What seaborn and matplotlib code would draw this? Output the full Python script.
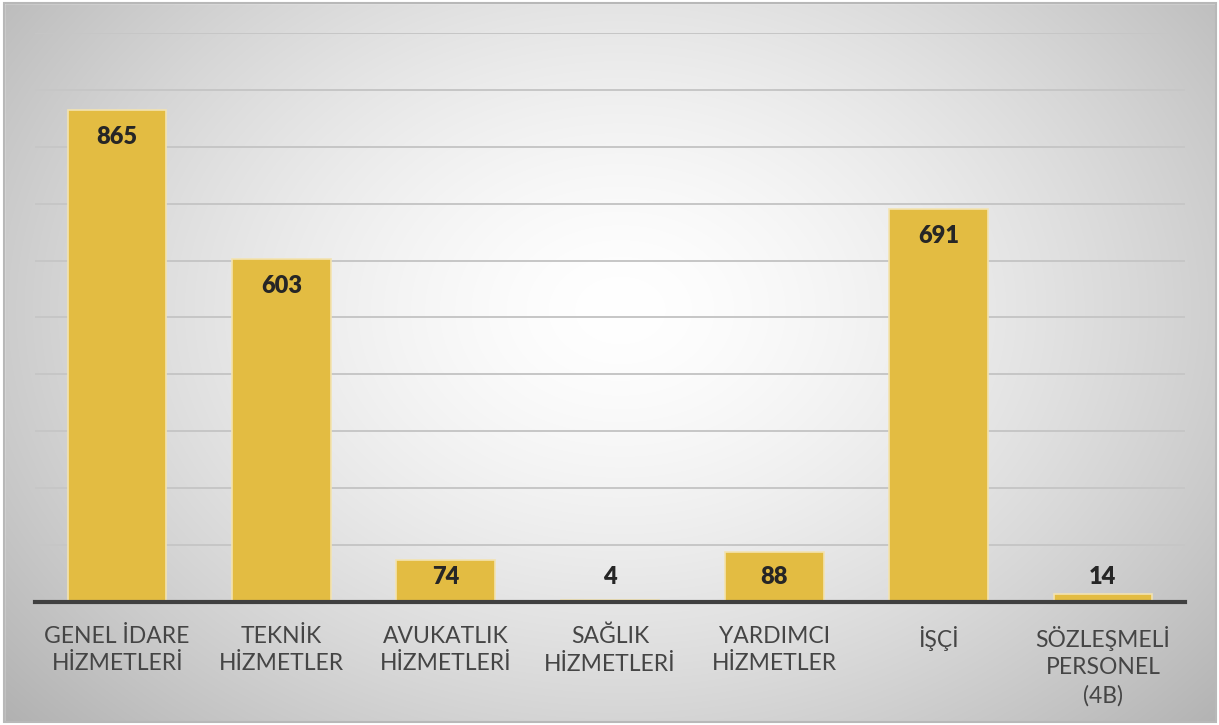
import numpy as np
import pandas as pd
import matplotlib
matplotlib.use("Agg")
import matplotlib.pyplot as plt
import seaborn as sns
from matplotlib.patches import Rectangle

categories = ["GENEL İDARE\nHİZMETLERİ", "TEKNİK\nHİZMETLER", "AVUKATLIK\nHİZMETLERİ",
              "SAĞLIK\nHİZMETLERİ", "YARDIMCI\nHİZMETLER", "İŞÇİ", "SÖZLEŞMELİ\nPERSONEL\n(4B)"]
values = [865, 603, 74, 4, 88, 691, 14]

df = pd.DataFrame({"cat": categories, "val": values})

sns.set_theme(style="white")
plt.rcParams['font.family'] = ['Lato', 'DejaVu Sans']

fig = plt.figure(figsize=(12.19, 7.25), dpi=100)
W, H = 1219, 725

# background gradient
bg = fig.add_axes([0, 0, 1, 1], zorder=0)
yy, xx = np.mgrid[0:H, 0:W]
cx, cy = 620, 310
d = np.sqrt(((xx - cx) / 720.0) ** 2 + ((yy - cy) / 540.0) ** 2)
g = 1.0 - 0.25 * np.clip(d, 0, 1.2) ** 1.5
img = np.dstack([g, g, g])
bg.imshow(img, extent=[0, W, H, 0], aspect='auto')
bg.set_xlim(0, W); bg.set_ylim(H, 0)
bg.axis('off')
bg.add_patch(Rectangle((0, 0), W, 3, color='white', zorder=2))
bg.add_patch(Rectangle((0, 722), W, 3, color='white', zorder=2))
bg.add_patch(Rectangle((0, 0), 4, H, color='white', zorder=2))
bg.add_patch(Rectangle((1216, 0), 3, H, color='white', zorder=2))
bg.add_patch(Rectangle((4, 3), 1212, 719, fill=False, edgecolor='#b8b8b8', lw=1.5, zorder=3))

ax = fig.add_axes([35 / W, 1 - 602 / H, 1150 / W, (602 - 33) / H], zorder=1)
ax.patch.set_alpha(0)
sns.barplot(data=df, x="cat", y="val", color="#E3BC42", width=0.6, ax=ax,
            edgecolor="#F3E3B0", linewidth=1.2, saturation=1, zorder=3)
ax.set_ylim(0, 1000)
ax.set_xlim(-0.5, 6.5)
ax.set_yticks(np.arange(0, 1001, 100))
ax.yaxis.grid(True, color='#c6c6c6', lw=1.4, zorder=0)
ax.set_axisbelow(True)
ax.tick_params(axis='y', left=False, labelleft=False)
ax.tick_params(axis='x', bottom=False, pad=11)
for s in ['top', 'right', 'left']:
    ax.spines[s].set_visible(False)
ax.spines['bottom'].set_color('#404040')
ax.spines['bottom'].set_linewidth(3)
ax.spines['bottom'].set_zorder(5)
ax.set_xlabel(""); ax.set_ylabel("")
ax.set_xticks(range(len(categories)))
ax.set_xticklabels(categories, fontsize=16.5, color='#454545', linespacing=1.38,
                   va='top', fontweight='normal')

px = 1000 / 569.0
for i, v in enumerate(values):
    y = max(v - 27 * px, 25 * px)
    ax.text(i, y, str(v), ha='center', va='center', fontsize=17,
            fontweight='heavy', color='#262626', zorder=6)

fig.savefig("out.png", dpi=100)
